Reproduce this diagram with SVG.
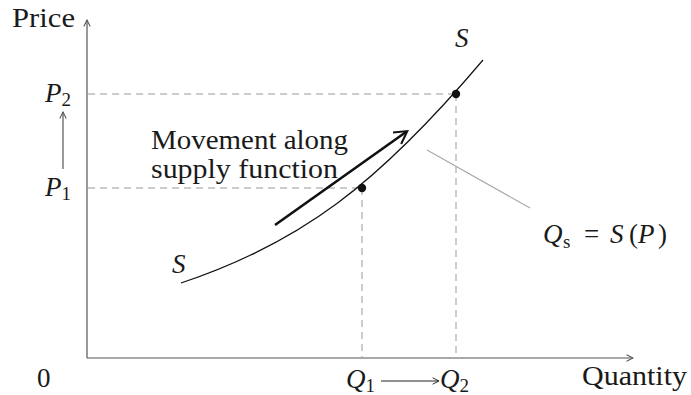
<svg xmlns="http://www.w3.org/2000/svg" width="691" height="395" viewBox="0 0 691 395">
<style>
.t{font-family:"Liberation Serif","DejaVu Serif",serif;font-size:27px;fill:#1a1a1a}
.i{font-style:italic}
.sub{font-size:19px;font-style:normal}
.ax{stroke:#555;stroke-width:1.2;fill:none}
.d{stroke:#999;stroke-width:1;stroke-dasharray:7,5;fill:none}
</style>
<defs>
<marker id="ah" viewBox="0 0 10 10" refX="9" refY="5" markerWidth="8" markerHeight="8" markerUnits="userSpaceOnUse" orient="auto">
<path d="M1,1 L9,5 L1,9" fill="none" stroke="#555" stroke-width="1.3"/>
</marker>
<marker id="ahb" viewBox="0 0 10 10" refX="8" refY="5" markerWidth="6" markerHeight="6" orient="auto">
<path d="M1,0.5 L9,5 L1,9.5" fill="none" stroke="#111" stroke-width="1.3"/>
</marker>
<marker id="ahk" viewBox="0 0 10 10" refX="9" refY="5" markerWidth="8" markerHeight="8" markerUnits="userSpaceOnUse" orient="auto">
<path d="M1,1 L9,5 L1,9" fill="none" stroke="#222" stroke-width="1.2"/>
</marker>
</defs>
<g id="connectors">
<line class="ax" x1="87" y1="358" x2="87" y2="20" marker-end="url(#ah)"/>
<line class="ax" x1="87" y1="358" x2="633" y2="358" marker-end="url(#ah)"/>
<line class="d" x1="88" y1="188" x2="362" y2="188"/>
<line class="d" x1="88" y1="94" x2="456" y2="94"/>
<line class="d" x1="362" y1="188" x2="362" y2="357"/>
<line class="d" x1="456" y1="94" x2="456" y2="357"/>
<line x1="63" y1="169" x2="63" y2="112" class="ax" marker-end="url(#ah)"/>
<line x1="381" y1="381" x2="439" y2="381" stroke="#222" stroke-width="1" marker-end="url(#ahk)"/>
<line x1="427" y1="150" x2="530" y2="208" stroke="#aaa" stroke-width="1.2"/>
<line x1="275" y1="225" x2="406" y2="132" stroke="#111" stroke-width="2.6" marker-end="url(#ahb)"/>
</g>
<g id="curve">
<path d="M181,283 C301,243 378,184 483,60" fill="none" stroke="#111" stroke-width="1.2"/>
<circle cx="362" cy="188" r="4.2" fill="#111"/>
<circle cx="456" cy="94" r="4.2" fill="#111"/>
</g>
<g id="labels">
<text class="t" x="12" y="27" textLength="63" lengthAdjust="spacingAndGlyphs">Price</text>
<text class="t i" x="45" y="102">P<tspan class="sub" dy="4">2</tspan></text>
<text class="t i" x="45" y="196">P<tspan class="sub" dy="4">1</tspan></text>
<text class="t" x="151" y="149" textLength="197" lengthAdjust="spacingAndGlyphs">Movement along</text>
<text class="t" x="151" y="178" textLength="187" lengthAdjust="spacingAndGlyphs">supply function</text>
<text class="t i" x="455" y="47">S</text>
<text class="t i" x="172" y="273">S</text>
<text class="t"><tspan class="i" x="543" y="243">Q</tspan><tspan class="sub i" x="563" y="248">s</tspan><tspan x="584" y="243">=</tspan><tspan class="i" x="610" y="243">S</tspan><tspan x="629" y="243">(</tspan><tspan class="i" x="638" y="243">P</tspan><tspan x="658" y="243">)</tspan></text>
<text class="t" x="37" y="387">0</text>
<text class="t i" x="346" y="388">Q<tspan class="sub" dy="4">1</tspan></text>
<text class="t i" x="440" y="388">Q<tspan class="sub" dy="4">2</tspan></text>
<text class="t" x="582" y="385" textLength="105" lengthAdjust="spacingAndGlyphs">Quantity</text>
</g>
</svg>
